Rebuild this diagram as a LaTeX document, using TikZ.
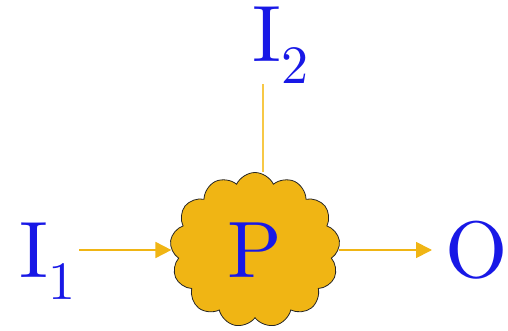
\documentclass[tikz,border=0pt]{standalone}
\usepackage{fontspec}
\newfontfamily\labelfont{lmroman10-regular}[Extension=.otf]
\usetikzlibrary{arrows.meta,calc,shapes.symbols}
\definecolor{gold}{RGB}{240,181,20}
\definecolor{lightgold}{RGB}{247,200,70}
\definecolor{txtblue}{RGB}{24,24,230}
\newcommand{\lowidx}[1]{\raisebox{-22pt}{\fontsize{54}{54}\selectfont #1}}

\begin{document}
\begin{tikzpicture}[
  x=1pt,y=-1pt,
  every node/.style={text=txtblue,font=\labelfont\fontsize{80}{80}\selectfont,inner sep=0pt},
  lbl/.style={anchor=base west},
  proc/.style={cloud,cloud puffs=13,cloud puff arc=130,aspect=1.1,draw=black!85,
    fill=gold,line width=0.8pt,minimum width=170pt,minimum height=155pt},
  arr/.style={-{Triangle[length=16pt,width=16pt]},draw=gold,line width=1.8pt},
  feed/.style={draw=lightgold,line width=1.2pt}
]
\useasboundingbox (0,0) rectangle (508,331);
\node[proc] (P) at (255,250) {P};
\node[lbl] (I1) at (19,277) {I\lowidx{1}};
\node[lbl] (I2) at (252,62) {I\lowidx{2}};
\node[lbl] (O) at (445,277) {O};
\path (P.north) ++(8,0) coordinate (Ptop);
\draw[feed] (I2.south -| Ptop) -- (Ptop);
\draw[arr,shorten <=4pt] (I1.east |- P.west) -- (P.west);
\draw[arr,shorten >=13pt] (P.east) -- (P.east -| O.west);
\end{tikzpicture}
\end{document}
